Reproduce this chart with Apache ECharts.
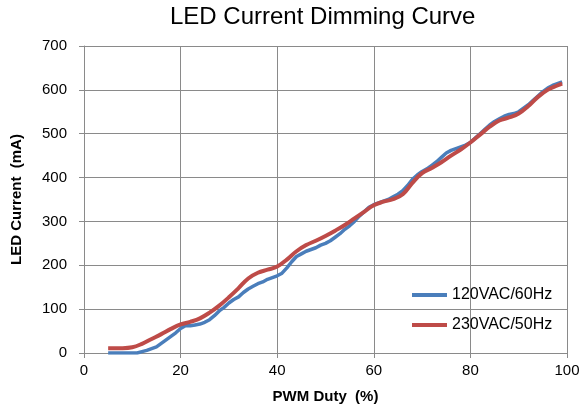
<!DOCTYPE html>
<html>
<head>
<meta charset="utf-8">
<script src="https://cdn.jsdelivr.net/npm/echarts@6/dist/echarts.min.js"></script>
<style>
  html, body { margin: 0; padding: 0; background: #fff; }
  #chart { width: 585px; height: 410px; }
</style>
</head>
<body>
<div id="chart"></div>
<script>
// PWM duty (%) for each series
const dutyBlue = [5, 6, 7, 8, 9, 10, 11, 12, 13, 14, 15, 16, 17, 18, 19, 20, 21, 22, 23, 24, 25, 26, 27, 28, 29, 30,
  31, 32, 33, 34, 35, 36, 37, 38, 39, 40, 41, 42, 43, 44, 45, 46, 47, 48, 49, 50, 51, 52, 53, 54, 55, 56, 57, 58, 59, 60,
  61, 62, 63, 64, 65, 66, 67, 68, 69, 70, 71, 72, 73, 74, 75, 76, 77, 78, 79, 80, 81, 82, 83, 84, 85, 86, 87, 88, 89, 90,
  91, 92, 93, 94, 95, 96, 97, 98, 99]
// 120VAC/60Hz current (mA)
const current120 = [0, 0, 0, 0, 0, 0, 0, 3, 6, 10, 14, 22, 30, 38, 46, 56, 62, 62, 64, 66, 70, 76, 85, 96, 104, 114,
  122, 128, 138, 146, 152, 158, 162, 168, 172, 176, 182, 194, 208, 220, 226, 232, 236, 240, 246, 250, 256, 264, 272, 282, 290, 300, 312, 322, 332, 338,
  342, 346, 350, 356, 362, 370, 382, 396, 406, 414, 420, 428, 436, 446, 456, 462, 466, 470, 474, 480, 490, 500, 510, 520, 528, 534, 540, 544, 546, 550,
  558, 566, 576, 586, 596, 604, 610, 614, 618]

const dutyRed = [5, 8, 10, 12, 14, 16, 18, 20, 22, 24, 26, 28, 30, 32, 34, 36, 38, 40, 42, 44, 46, 48, 50,
  52, 54, 56, 58, 60, 62, 64, 66, 68, 70, 72, 74, 76, 78, 80, 82, 84, 86, 88, 90, 92, 94, 96, 98, 99]
// 230VAC/50Hz current (mA)
const current230 = [11, 11, 13, 21, 32, 43, 55, 65, 71, 79, 92, 108, 127, 148, 170, 183, 190, 197, 213, 232, 246, 256, 267,
  279, 292, 307, 322, 337, 345, 351, 362, 388, 410, 422, 435, 450, 464, 480, 498, 516, 530, 537, 546, 563, 584, 600, 610, 614]

const seriesNames = ['120VAC/60Hz', '230VAC/50Hz']

const chart = echarts.init(document.getElementById('chart'))
const gridColor = '#8a8a8a'
const font = 'Liberation Sans, Arial, sans-serif'

chart.setOption({
  animation: false,
  textStyle: { fontFamily: font },
  title: {
    text: 'LED Current Dimming Curve',
    left: 170,
    top: 5,
    padding: 0,
    textStyle: { fontSize: 24, fontWeight: 'normal', color: '#000', fontFamily: font }
  },
  legend: {
    orient: 'vertical',
    left: 412,
    top: 287,
    padding: 0,
    itemGap: 14,
    itemWidth: 35,
    itemHeight: 4,
    icon: 'rect',
    textStyle: { fontSize: 16, color: '#000', fontFamily: font },
    data: seriesNames
  },
  grid: {
    left: 84,
    right: 18,
    top: 46,
    bottom: 57
  },
  xAxis: {
    type: 'value',
    min: 0,
    max: 100,
    interval: 20,
    name: 'PWM Duty  (%)',
    nameLocation: 'middle',
    nameGap: 36,
    nameTextStyle: { fontSize: 15, fontWeight: 'bold', color: '#000' },
    axisLine: { show: true, lineStyle: { color: gridColor } },
    axisTick: { show: true, length: 5, lineStyle: { color: gridColor } },
    axisLabel: { fontSize: 15, color: '#000', margin: 10 },
    splitLine: { show: true, lineStyle: { color: gridColor, width: 1 } }
  },
  yAxis: {
    type: 'value',
    min: 0,
    max: 700,
    interval: 100,
    name: 'LED Current  (mA)',
    nameLocation: 'middle',
    nameGap: 60,
    nameTextStyle: { fontSize: 15, fontWeight: 'bold', color: '#000' },
    axisLine: { show: true, lineStyle: { color: gridColor } },
    axisTick: { show: true, length: 5, lineStyle: { color: gridColor } },
    axisLabel: { fontSize: 15, color: '#000', margin: 17 },
    splitLine: { show: true, lineStyle: { color: gridColor, width: 1 } }
  },
  series: [
    {
      name: seriesNames[0],
      type: 'line',
      showSymbol: false,
      lineStyle: { width: 3.5, color: '#4a7ebb' },
      itemStyle: { color: '#4a7ebb' },
      data: dutyBlue.map((x, i) => [x, current120[i]])
    },
    {
      name: seriesNames[1],
      type: 'line',
      showSymbol: false,
      smooth: 0.4,
      lineStyle: { width: 4, color: '#be4b48' },
      itemStyle: { color: '#be4b48' },
      data: dutyRed.map((x, i) => [x, current230[i]])
    }
  ]
})
</script>
</body>
</html>
